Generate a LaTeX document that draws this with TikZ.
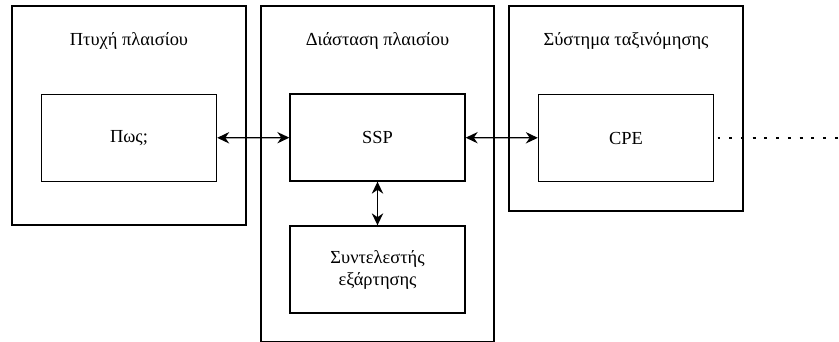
\documentclass[tikz,border=0pt]{standalone}
\usepackage{fontspec}
\setmainfont{Liberation Serif}
\usetikzlibrary{positioning, arrows.meta}

\tikzset{
    frame/.style={draw, line width=1pt, rectangle, inner sep=0pt},
    block/.style={draw, line width=1pt, rectangle, align=center,
        minimum width=175*0.75pt, minimum height=87*0.75pt, font=\fontsize{13.8}{16.5}\selectfont},
    title/.style={font=\fontsize{13.8}{16.5}\selectfont},
    link/.style={{Stealth[length=9pt, width=8.5pt]}-{Stealth[length=9pt, width=8.5pt]}, line width=1pt}
}

\begin{document}
\begin{tikzpicture}[x=0.75pt, y=-0.75pt]
    \useasboundingbox (0,0) rectangle (839,342);

    % Outer frames
    \node[frame, minimum width=234*0.75pt, minimum height=219*0.75pt] (fold) at (129,115.5) {};
    \node[frame, minimum width=233*0.75pt, minimum height=336*0.75pt] (dim) at (377.5,174) {};
    \node[frame, minimum width=234*0.75pt, minimum height=205*0.75pt] (sys) at (626,108.5) {};

    % Frame titles
    \node[title] (foldtitle) at (129,41) {Πτυχή πλαισίου};
    \node[title] (dimtitle) at (377.5,41) {Διάσταση πλαισίου};
    \node[title] (systitle) at (626,41) {Σύστημα ταξινόμησης};

    % Inner blocks
    \node[block] (pws) at (129,138) {Πως;};
    \node[block] (ssp) at (377.5,137.5) {SSP};
    \node[block] (coef) at (377.5,269.5) {Συντελεστής\\εξάρτησης};
    \node[block] (cpe) at (626,138) {CPE};

    % Links
    \draw[link] (pws) -- (ssp);
    \draw[link] (ssp) -- (cpe);
    \draw[link] (ssp) -- (coef);

    % Continuation
    \coordinate (tail) at (839,138);
    \draw[line width=2.2pt, dash pattern=on 2.2pt off 6.6pt, dash phase=-2.5pt] (cpe.east) -- (tail);
\end{tikzpicture}
\end{document}
